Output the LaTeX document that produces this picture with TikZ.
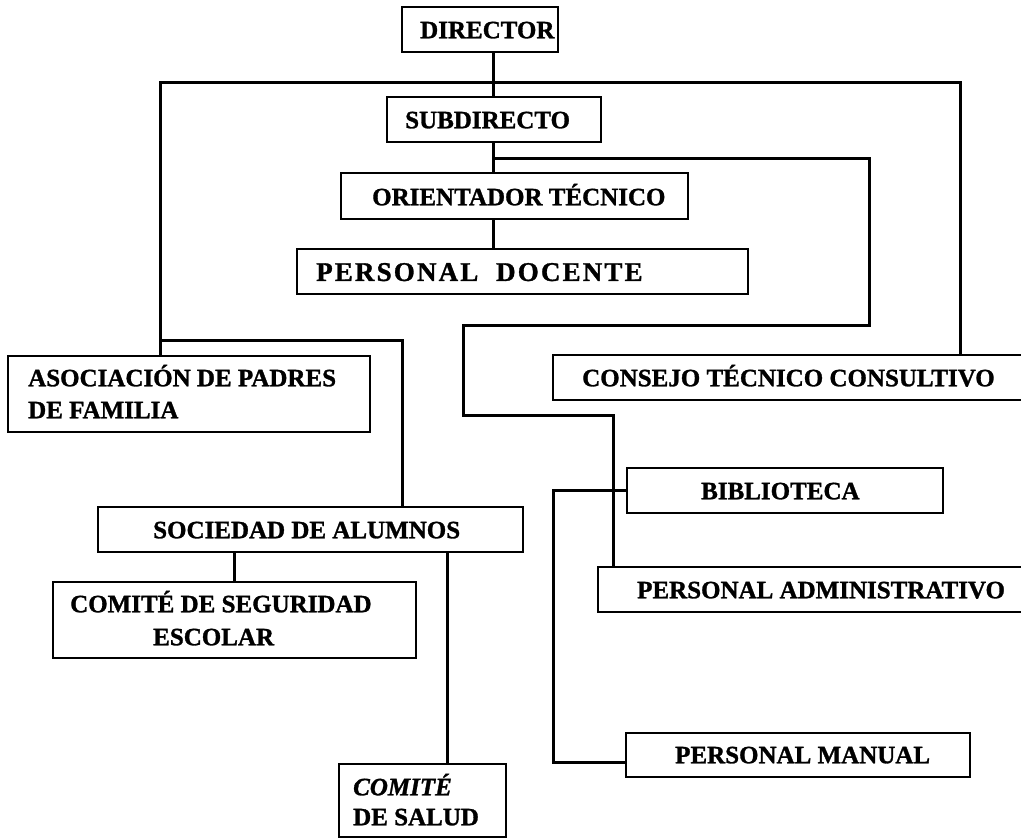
\documentclass[tikz,border=0pt]{standalone}
\usepackage{fontspec}
\setmainfont[BoldFont={Liberation Serif Bold},
             BoldItalicFont={Liberation Serif Bold Italic},
             BoldFeatures={FakeBold=1.2},
             BoldItalicFeatures={FakeBold=1.2}]{Liberation Serif}
\begin{document}
\begin{tikzpicture}[x=1pt,y=-1pt,
  obox/.style={draw, line width=2.1pt, fill=white, inner sep=0pt, rectangle},
  lbl/.style={anchor=west, inner sep=0pt, text height=16.5pt, text depth=0pt,
              font=\fontsize{25}{30}\selectfont\bfseries},
  conn/.style={line width=3pt, line join=miter}]
\useasboundingbox (0,0) rectangle (1021,839);

% boxes
\node[obox, minimum width=156pt, minimum height=45pt] (dir)  at (480,29.5)   {};
\node[obox, minimum width=214pt, minimum height=45pt] (sub)  at (494,119.5)  {};
\node[obox, minimum width=347pt, minimum height=46pt] (ori)  at (514.5,196)  {};
\node[obox, minimum width=451pt, minimum height=45pt] (pd)   at (522.5,271.5){};
\node[obox, minimum width=362pt, minimum height=76pt] (aso)  at (189,394)    {};
\node[obox, minimum width=482pt, minimum height=45pt] (con)  at (794,377.5)  {};
\node[obox, minimum width=316pt, minimum height=45pt] (bib)  at (785,490.5)  {};
\node[obox, minimum width=425pt, minimum height=45pt] (soc)  at (310.5,529.5){};
\node[obox, minimum width=363pt, minimum height=76pt] (cseg) at (234.5,620)  {};
\node[obox, minimum width=437pt, minimum height=45pt] (padm) at (816.5,589.5){};
\node[obox, minimum width=344pt, minimum height=44pt] (pman) at (798,755)    {};
\node[obox, minimum width=167pt, minimum height=73pt] (csal) at (422.5,800.5){};

% labels
\node[lbl] at (420,30)  {DIRECTOR};
\node[lbl] at (405,120) {SUBDIRECTO};
\node[lbl] at (372,197) {ORIENTADOR TÉCNICO};
\node[lbl, text height=17.9pt, font=\fontsize{27}{32}\selectfont\bfseries]
  at (316,272) {\addfontfeature{LetterSpace=8}PERSONAL\ \ DOCENTE};
\node[lbl] at (28,378)  {ASOCIACIÓN DE PADRES};
\node[lbl] at (28,410)  {DE FAMILIA};
\node[lbl] at (582,378) {CONSEJO TÉCNICO CONSULTIVO};
\node[lbl] at (701,491) {BIBLIOTECA};
\node[lbl] at (153,530) {SOCIEDAD DE ALUMNOS};
\node[lbl] at (70,604)  {COMITÉ DE SEGURIDAD};
\node[lbl] at (153,637) {ESCOLAR};
\node[lbl] at (637,590) {PERSONAL ADMINISTRATIVO};
\node[lbl] at (675,755) {PERSONAL MANUAL};
\node[lbl] at (353,787) {\itshape COMITÉ};
\node[lbl] at (353,817) {DE SALUD};

% named points of the connectors
\coordinate (tx) at (493,0);
\coordinate (tl) at (160,82);
\coordinate (tr) at (960,82);
\coordinate (b1) at (493,158);
\coordinate (b2) at (869,158);
\coordinate (b3) at (869,325);
\coordinate (b4) at (463,325);
\coordinate (b5) at (463,415);
\coordinate (b6) at (613,415);
\coordinate (d1) at (160,340);
\coordinate (d2) at (402,340);
\coordinate (f1) at (447,552);
\coordinate (g1) at (553,491);
\coordinate (g2) at (553,762);

% connectors
\draw[conn] (dir.south -| tx) -- (sub.north -| tx);
\draw[conn] (sub.south -| tx) -- (ori.north -| tx);
\draw[conn] (ori.south -| tx) -- (pd.north -| tx);
\draw[conn] (aso.north -| tl) -- (tl) -- (tr) -- (tr |- con.north);
\draw[conn] (b1) -- (b2) -- (b3) -- (b4) -- (b5) -- (b6) -- (b6 |- padm.north);
\draw[conn] (d1) -- (d2) -- (d2 |- soc.north);
\draw[conn] (soc.south -| cseg.north) -- (cseg.north);
\draw[conn] (f1) -- (f1 |- csal.north);
\draw[conn] (bib.west) -- (bib.west -| g1) -- (g2) -- (g2 -| pman.west);
\end{tikzpicture}
\end{document}
